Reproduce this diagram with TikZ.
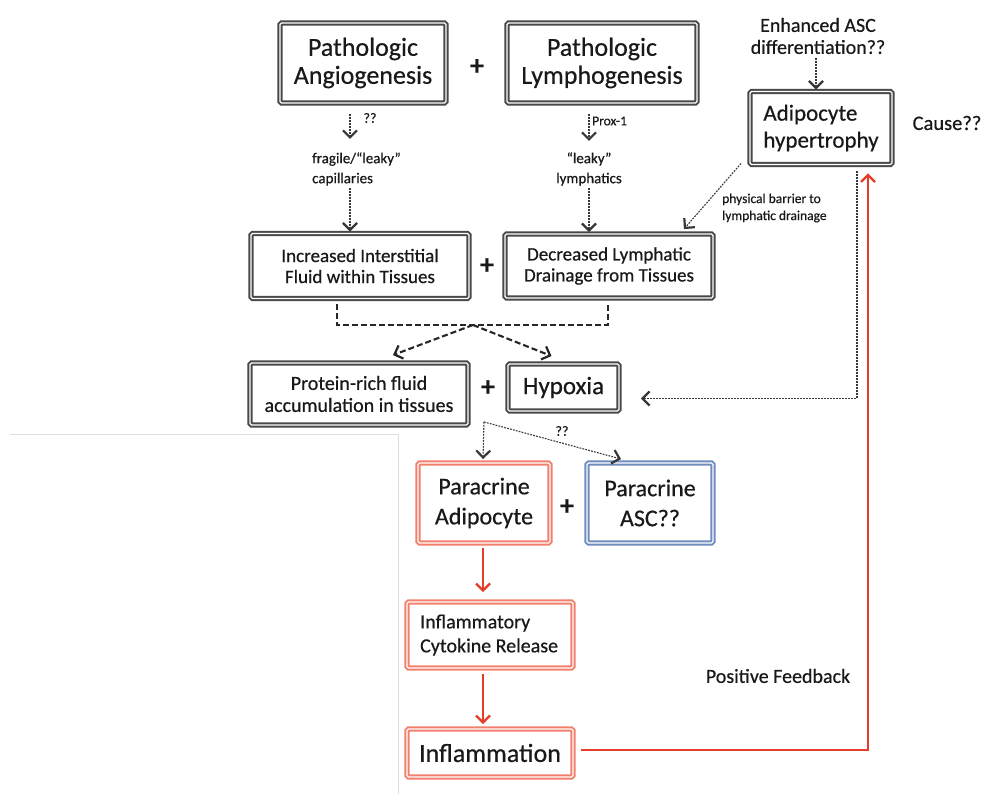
\documentclass[tikz,border=0pt]{standalone}
\usepackage{fontspec}
\setmainfont[FakeBold=0.5]{Carlito}
\usetikzlibrary{arrows.meta,calc}
\definecolor{boxgray}{RGB}{72,72,72}
\definecolor{linegray}{RGB}{55,55,55}
\definecolor{fbred}{RGB}{228,62,42}
\definecolor{salmon}{RGB}{242,128,108}
\definecolor{steel}{RGB}{112,140,190}
\definecolor{framegray}{RGB}{222,222,222}
\tikzset{
  x=1pt, y=-1pt,
  fs/.code 2 args={\fontsize{#1}{#2}\selectfont},
  dbox/.style={draw=#1, line width=1.9pt, double=white, double distance=1.3pt,
    rounded corners=1.5pt, inner sep=0pt, align=center, text=black!90},
  graybox/.style={dbox=boxgray},
  redbox/.style={dbox=salmon},
  bluebox/.style={dbox=steel},
  plus/.style={font=\fontsize{28}{28}\selectfont\bfseries, text=black!90, inner sep=0pt},
  txt/.style={text=black!90, inner sep=0pt},
  chev/.style={-{Straight Barb[length=7pt,width=14pt,line width=2.2pt]}},
  dotarrow/.style={chev, draw=linegray, line width=1.1pt, dash pattern=on 1.8pt off 1.2pt},
  dasharrow/.style={chev, draw=black!85, line width=2.1pt, dash pattern=on 6pt off 3pt},
  redarrow/.style={-{Straight Barb[length=7pt,width=14pt,line width=2.2pt]}, draw=fbred, line width=2.6pt},
}
\begin{document}
\begin{tikzpicture}
\useasboundingbox (0,0) rectangle (983,794);
\fill[white] (0,0) rectangle (983,794);

% frame line at lower left
\draw[framegray, line width=0.9pt] (10,434) -- (398,434) -- (398,794);

% top row
\node[graybox, minimum width=166, minimum height=80, fs={26}{28}] (A) at (363,63) {Pathologic\\Angiogenesis};
\node[plus] (pAB) at (477,67) {+};
\node[graybox, minimum width=190, minimum height=80, fs={26}{28}] (B) at (602,63) {Pathologic\\Lymphogenesis};

\node[txt, fs={20}{22}, align=center] (enh) at (818,36) {Enhanced ASC\\differentiation??};
\node[graybox, minimum width=142, minimum height=73, fs={23}{27}, align=left] (adi) at (821,128) {Adipocyte\\hypertrophy};
\node[txt, fs={20.5}{22}] (cause) at (947,123) {Cause??};

% intermediate labels
\node[txt, fs={15}{20}, align=left, anchor=west] (frag) at (312,169) {fragile/“leaky”\\capillaries};
\node[txt, fs={15}{20}, align=center] (leaky) at (589,169) {“leaky”\\lymphatics};
\node[txt, fs={14}{14}] (qA) at (370,118) {??};
\node[txt, fs={13.5}{14}, anchor=west] (prox) at (592,121) {Prox-1};
\node[txt, fs={13.5}{17}, align=left, anchor=west] (barrier) at (722,208) {physical barrier to\\lymphatic drainage};

% second row
\node[graybox, minimum width=218, minimum height=65, fs={19}{21}] (C) at (360,266) {Increased Interstitial\\Fluid within Tissues};
\node[plus] (pCD) at (487,266) {+};
\node[graybox, minimum width=208, minimum height=64, fs={19}{21}] (D) at (609,266) {Decreased Lymphatic\\Drainage from Tissues};

% third row
\node[graybox, minimum width=218, minimum height=62, fs={20}{22}] (E) at (359,394) {Protein-rich fluid\\accumulation in tissues};
\node[plus] (pEF) at (488,388) {+};
\node[graybox, minimum width=111, minimum height=47, fs={25}{28}] (F) at (563.5,387.5) {Hypoxia};
\node[txt, fs={14}{14}] (qE) at (562,431) {??};

% paracrine row
\node[redbox, minimum width=132, minimum height=80, fs={24}{30}] (G) at (484,503) {Paracrine\\Adipocyte};
\node[plus] (pGH) at (567,507) {+};
\node[bluebox, minimum width=126, minimum height=80, fs={24}{30}] (H) at (650,503) {Paracrine\\ASC??};

% inflammation chain
\node[redbox, minimum width=166, minimum height=66, fs={20}{24}, align=left] (I) at (490,635)
  {Inflammatory\phantom{ Rel}\\Cytokine Release};
\node[redbox, minimum width=166, minimum height=48, fs={26}{28}] (J) at (490,753) {Inflammation};
\node[txt, fs={20}{20}] (fb) at (778,676) {Positive Feedback};

% dotted arrows from the top row
\draw[dotarrow] ($(A.south)+(-13,10)$) -- ($(A.south)+(-13,35)$);
\draw[dotarrow] ($(frag.south west)+(38,2)$) -- ($(C.north)+(-10,-1)$);
\draw[dotarrow] ($(B.south)+(-13,10)$) -- ($(B.south)+(-13,37)$);
\draw[dotarrow] ($(leaky.south)+(0,2)$) -- ($(D.north)+(-20,-1)$);
\draw[dotarrow] ($(enh.south)+(-2,4)$) -- ($(adi.north)+(-5,-1)$);
\draw[dotarrow] ($(adi.south west)+(-8,-2)$) -- ($(D.north east)+(-30,-4)$);
\draw[dotarrow] ($(adi.south)+(36,6)$) |- ($(F.east)+(21,11)$);

% dashed bracket joining the second row
\coordinate (brL) at ($(C.south)+(-23,5)$);
\coordinate (brR) at ($(D.south)+(-1,5)$);
\coordinate (brM) at (473,325);
\draw[black!85, line width=2.1pt, dash pattern=on 6pt off 3pt] (brL) -- (brL |- brM) -- (brR |- brM) -- (brR);
\draw[dasharrow] (brM) -- ($(E.north)+(34,-7)$);
\draw[dasharrow] (brM) -- ($(F.north)+(-12,-7)$);

% split towards the paracrine sources
\coordinate (split) at ($(E.south east)+(15,-4)$);
\draw[dotarrow] (split) -- ($(G.north)+(-1,-3)$);
\draw[dotarrow] (split) -- ($(H.north west)+(35,-3)$);

% red chain and feedback loop
\draw[redarrow] ($(G.south)+(-1,4)$) -- ($(I.north)+(-7,-9)$);
\draw[redarrow] ($(I.south)+(-7,5)$) -- ($(J.north)+(-7,-4)$);
\draw[redarrow] ($(J.east)+(7,-3)$) -| ($(adi.south)+(47,8)$);
\end{tikzpicture}
\end{document}
